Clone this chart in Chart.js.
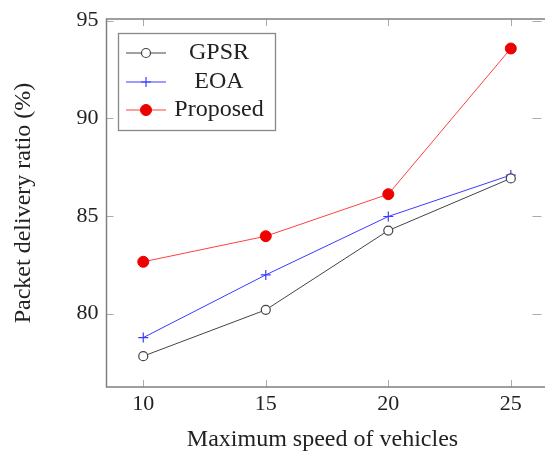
<!DOCTYPE html>
<html>
<head>
<meta charset="utf-8">
<script src="https://cdn.jsdelivr.net/npm/chart.js@4"></script>
<style>
html,body{margin:0;padding:0;background:#fff;overflow:hidden;}
#c{display:block;}
</style>
</head>
<body>
<canvas id="c" width="545" height="452"></canvas>
<script>
const speeds = [10, 15, 20, 25];
const gpsr = [77.82, 80.19, 84.25, 86.92];
const eoa = [78.77, 81.98, 84.97, 87.09];
const proposed = [82.65, 83.96, 86.11, 93.57];
const xTicks = [10, 15, 20, 25];
const yTicks = [80, 85, 90, 95];
const seriesNames = ['GPSR', 'EOA', 'Proposed'];

const FONT = 'Liberation Serif';
const TXT = '#222';

function pts(vals){ return speeds.map((x,i)=>({x:x,y:vals[i]})); }

const framePlugin = {
  id:'frame',
  beforeDatasetsDraw(chart){
    const {ctx, chartArea:a, scales} = chart;
    ctx.save();
    ctx.strokeStyle = '#aaa';
    ctx.lineWidth = 1;
    const tl = 7;
    xTicks.forEach(v=>{
      const x = Math.round(scales.x.getPixelForValue(v))+0.5;
      ctx.beginPath(); ctx.moveTo(x,a.bottom); ctx.lineTo(x,a.bottom-tl); ctx.stroke();
      ctx.beginPath(); ctx.moveTo(x,a.top); ctx.lineTo(x,a.top+tl); ctx.stroke();
    });
    yTicks.forEach(v=>{
      const y = Math.round(scales.y.getPixelForValue(v))+0.5;
      ctx.beginPath(); ctx.moveTo(a.left,y); ctx.lineTo(a.left+tl,y); ctx.stroke();
      ctx.beginPath(); ctx.moveTo(a.right+3,y); ctx.lineTo(a.right-tl+1,y); ctx.stroke();
    });
    ctx.strokeStyle = '#808080';
    ctx.lineWidth = 1.5;
    ctx.beginPath();
    ctx.moveTo(chart.width + 5, a.top);
    ctx.lineTo(a.left, a.top);
    ctx.lineTo(a.left, a.bottom);
    ctx.lineTo(chart.width + 5, a.bottom);
    ctx.stroke();
    ctx.restore();
  }
};

const legendPlugin = {
  id:'innerLegend',
  afterDatasetsDraw(chart){
    const ctx = chart.ctx;
    const box = {x:118.5, y:33.5, w:157, h:97};
    ctx.save();
    ctx.fillStyle = '#fff';
    ctx.fillRect(box.x, box.y, box.w, box.h);
    ctx.strokeStyle = '#888';
    ctx.lineWidth = 1.3;
    ctx.strokeRect(box.x, box.y, box.w, box.h);
    const rows = [53, 82, 110];
    chart.data.datasets.forEach((ds,i)=>{
      const y = rows[i];
      ctx.strokeStyle = ds.borderColor;
      ctx.lineWidth = ds.borderWidth;
      ctx.beginPath(); ctx.moveTo(126,y); ctx.lineTo(166,y); ctx.stroke();
      ctx.fillStyle = ds.pointBackgroundColor;
      ctx.strokeStyle = ds.pointBorderColor;
      ctx.lineWidth = ds.pointBorderWidth;
      Chart.helpers.drawPoint(ctx, {pointStyle: ds.pointStyle, radius: ds.pointRadius, rotation:0, borderWidth: ds.pointBorderWidth}, 146, y);
      ctx.fillStyle = TXT;
      ctx.font = '24px "' + FONT + '"';
      ctx.textAlign = 'center';
      ctx.textBaseline = 'middle';
      ctx.fillText(ds.label, 219, y);
    });
    ctx.restore();
  }
};

new Chart(document.getElementById('c'), {
  type:'line',
  data:{
    datasets:[
      {label:seriesNames[0], data:pts(gpsr), borderColor:'#444', borderWidth:1, pointStyle:'circle', pointRadius:4.5, pointBackgroundColor:'#fff', pointBorderColor:'#444', pointBorderWidth:1.2},
      {label:seriesNames[1], data:pts(eoa), borderColor:'#3b3bff', borderWidth:1, pointStyle:'cross', pointRadius:5, pointBackgroundColor:'#3b3bff', pointBorderColor:'#3b3bff', pointBorderWidth:1.2},
      {label:seriesNames[2], data:pts(proposed), borderColor:'#ff4040', borderWidth:1, pointStyle:'circle', pointRadius:5.5, pointBackgroundColor:'#ee0000', pointBorderColor:'#ee0000', pointBorderWidth:1}
    ]
  },
  options:{
    responsive:false,
    animation:false,
    events:[],
    layout:{padding:{left:0, top:16, right:0, bottom:0}},
    plugins:{legend:{display:false}, tooltip:{enabled:false}},
    scales:{
      x:{
        type:'linear', min:8.5, max:26.13,
        afterBuildTicks(s){ s.ticks = xTicks.map(v=>({value:v})); },
        afterFit(s){ s.height = 65; },
        grid:{display:false, drawTicks:false},
        border:{display:false},
        ticks:{color:TXT, font:{family:FONT, size:22, lineHeight:1}, padding:6, maxRotation:0, autoSkip:false},
        title:{display:true, text:'Maximum speed of vehicles', color:TXT, font:{family:FONT, size:24, lineHeight:1}, padding:{top:0,bottom:0}}
      },
      y:{
        type:'linear', min:76.24, max:95.08,
        afterBuildTicks(s){ s.ticks = yTicks.map(v=>({value:v})); },
        afterFit(s){ s.width = 106.5; },
        grid:{display:false, drawTicks:false},
        border:{display:false},
        ticks:{color:TXT, font:{family:FONT, size:22, lineHeight:1}, padding:8, autoSkip:false},
        title:{display:true, text:'Packet delivery ratio (%)', color:TXT, font:{family:FONT, size:24, lineHeight:1}, padding:{top:12,bottom:0}}
      }
    }
  },
  plugins:[framePlugin, legendPlugin]
});
</script>
</body>
</html>
